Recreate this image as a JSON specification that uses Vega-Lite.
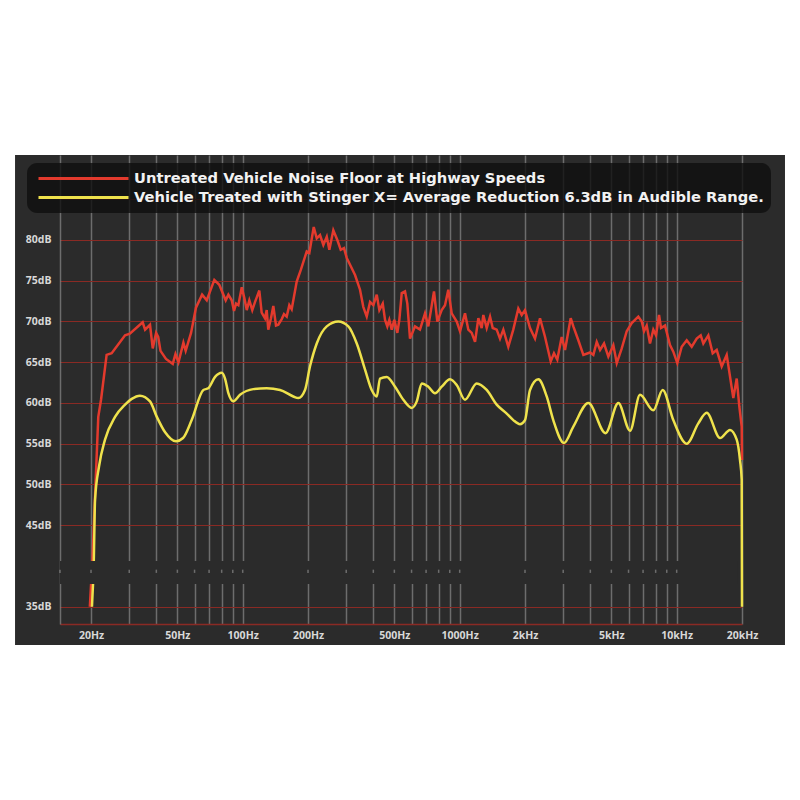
{
"$schema":"https://vega.github.io/schema/vega-lite/v6.json",
"width":682,"height":469,
"autosize":{"type":"none"},
"padding":{"left":60,"top":155,"right":58,"bottom":176},
"background":"#2b2b2b",
"config":{"view":{"stroke":null},"font":"Open Sans",
 "legend":{"fillColor":"rgba(16,16,16,0.82)","cornerRadius":10,"padding":7,"symbolType":"stroke","symbolSize":8100,"symbolStrokeWidth":3,"symbolOffset":3,"labelFont":"DejaVu Sans","labelFontWeight":"bold","labelFontSize":14.7,"labelColor":"#f2f2f2","labelLimit":1000,"labelOffset":4,"rowPadding":2,"clipHeight":17}},
"datasets":{
"untreated":[{"f":19.75,"db":35},{"f":20.3,"db":40.73},{"f":21.6,"db":58.3},{"f":22.24,"db":60.4},{"f":23.6,"db":65.9},{"f":24.9,"db":66.1},{"f":28.7,"db":68.3},{"f":30.2,"db":68.5},{"f":34.6,"db":69.9},{"f":35.5,"db":69.0},{"f":37.4,"db":69.6},{"f":38.5,"db":66.7},{"f":39.9,"db":68.6},{"f":40.8,"db":68.1},{"f":41.8,"db":66.4},{"f":44.3,"db":65.4},{"f":47.6,"db":64.8},{"f":49.0,"db":66.0},{"f":50.6,"db":65.0},{"f":53.3,"db":67.4},{"f":54.6,"db":66.4},{"f":57.8,"db":68.6},{"f":60.9,"db":71.7},{"f":65.0,"db":73.3},{"f":68.3,"db":72.6},{"f":74.0,"db":75.1},{"f":78.0,"db":74.5},{"f":83.5,"db":72.6},{"f":85.9,"db":73.3},{"f":89.0,"db":72.6},{"f":91.2,"db":71.3},{"f":93.2,"db":72.2},{"f":95.5,"db":72.0},{"f":99.0,"db":74.2},{"f":101.7,"db":72.9},{"f":104.4,"db":71.4},{"f":107.3,"db":72.6},{"f":110.7,"db":71.4},{"f":114.0,"db":72.4},{"f":119.3,"db":73.8},{"f":122.3,"db":71.1},{"f":126.7,"db":70.4},{"f":129.0,"db":71.4},{"f":131.2,"db":69.0},{"f":135.0,"db":70.4},{"f":138.4,"db":71.9},{"f":142.4,"db":69.5},{"f":145.9,"db":69.6},{"f":151.3,"db":70.3},{"f":155.0,"db":70.9},{"f":159.5,"db":70.6},{"f":164.0,"db":72.0},{"f":168.2,"db":71.5},{"f":177.4,"db":74.9},{"f":185.1,"db":76.3},{"f":197.3,"db":78.6},{"f":202.8,"db":78.4},{"f":212.5,"db":81.6},{"f":219.4,"db":80.2},{"f":227.2,"db":80.6},{"f":235.3,"db":79.4},{"f":244.0,"db":80.4},{"f":250.8,"db":78.8},{"f":261.6,"db":81.2},{"f":273.0,"db":80.0},{"f":283.0,"db":78.8},{"f":293.0,"db":79.0},{"f":301.6,"db":77.8},{"f":329.4,"db":75.7},{"f":347.3,"db":73.9},{"f":359.6,"db":71.8},{"f":372.9,"db":70.6},{"f":386.3,"db":72.4},{"f":400,"db":72.0},{"f":414.7,"db":73.3},{"f":426.4,"db":71.4},{"f":442,"db":72.2},{"f":452.9,"db":70.2},{"f":464,"db":69.4},{"f":474,"db":70.2},{"f":486.2,"db":69.0},{"f":499.8,"db":70.2},{"f":516,"db":68.6},{"f":527.1,"db":70.2},{"f":540.7,"db":73.5},{"f":559.8,"db":73.7},{"f":573.8,"db":72.2},{"f":590.3,"db":67.9},{"f":622.4,"db":69.4},{"f":656.2,"db":69.0},{"f":692.2,"db":71.0},{"f":716.9,"db":69.4},{"f":761.4,"db":73.7},{"f":788.7,"db":70.0},{"f":826.2,"db":71.4},{"f":855.7,"db":72.0},{"f":886.2,"db":73.9},{"f":918.8,"db":71.0},{"f":969,"db":70.0},{"f":1003.5,"db":68.8},{"f":1058,"db":71.0},{"f":1096,"db":69.0},{"f":1136,"db":68.6},{"f":1177,"db":67.5},{"f":1219,"db":70.4},{"f":1263,"db":69.2},{"f":1285,"db":70.8},{"f":1332,"db":69.2},{"f":1380,"db":70.6},{"f":1420,"db":69.2},{"f":1481,"db":69.0},{"f":1534,"db":67.9},{"f":1589,"db":69.0},{"f":1675,"db":66.9},{"f":1766,"db":69.0},{"f":1863,"db":71.6},{"f":1931,"db":70.8},{"f":2000,"db":71.4},{"f":2109,"db":69.2},{"f":2224,"db":67.9},{"f":2345,"db":70.4},{"f":2474,"db":68.1},{"f":2627,"db":65.1},{"f":2720,"db":66.1},{"f":2817,"db":65.3},{"f":2951,"db":68.1},{"f":3058,"db":66.5},{"f":3248,"db":70.4},{"f":3340,"db":69.4},{"f":3522,"db":67.7},{"f":3714,"db":65.9},{"f":3988,"db":66.2},{"f":4130,"db":65.9},{"f":4282,"db":67.5},{"f":4434,"db":66.5},{"f":4626,"db":67.3},{"f":4842,"db":65.7},{"f":5106,"db":67.1},{"f":5294,"db":64.9},{"f":5582,"db":66.7},{"f":5886,"db":68.8},{"f":6206,"db":69.8},{"f":6656,"db":70.6},{"f":6902,"db":70.0},{"f":7072,"db":68.8},{"f":7276,"db":69.5},{"f":7534,"db":67.3},{"f":7804,"db":69.0},{"f":8032,"db":68.3},{"f":8292,"db":70.8},{"f":8468,"db":69.2},{"f":8836,"db":69.5},{"f":9316,"db":67.1},{"f":9648,"db":66.3},{"f":10066,"db":64.9},{"f":10548,"db":66.9},{"f":11124,"db":67.7},{"f":11730,"db":66.9},{"f":12368,"db":67.9},{"f":12906,"db":68.3},{"f":13268,"db":67.3},{"f":13990,"db":68.3},{"f":14656,"db":66.1},{"f":15292,"db":66.5},{"f":16126,"db":64.5},{"f":17004,"db":65.9},{"f":18240,"db":60.6},{"f":18908,"db":63.0},{"f":19438,"db":59.6},{"f":19936,"db":57.1},{"f":20000,"db":53.0}],
"treated":[{"f":20.2,"db":35},{"f":20.6,"db":40.73},{"f":20.87,"db":48.1},{"f":21.77,"db":52.2},{"f":23.2,"db":55.5},{"f":25.8,"db":58.3},{"f":28.7,"db":59.8},{"f":30.8,"db":60.5},{"f":33.6,"db":60.9},{"f":37.4,"db":60.2},{"f":40.2,"db":58.3},{"f":43.9,"db":56.4},{"f":49.3,"db":55.3},{"f":53.1,"db":55.7},{"f":58.2,"db":57.9},{"f":65.9,"db":61.6},{"f":69.4,"db":61.8},{"f":74.6,"db":63.2},{"f":80.1,"db":63.7},{"f":82.9,"db":63.0},{"f":85.9,"db":61.2},{"f":90.5,"db":60.2},{"f":97.2,"db":61.0},{"f":111.9,"db":61.7},{"f":129,"db":61.8},{"f":148.6,"db":61.6},{"f":171.1,"db":60.8},{"f":180.5,"db":60.6},{"f":193.7,"db":61.6},{"f":204.3,"db":64.5},{"f":219.4,"db":67.3},{"f":244,"db":69.4},{"f":275.8,"db":70.0},{"f":306.8,"db":69.4},{"f":335.5,"db":67.3},{"f":366.3,"db":64.1},{"f":393.1,"db":61.6},{"f":414.7,"db":60.8},{"f":429.4,"db":63.0},{"f":461.1,"db":63.2},{"f":503.6,"db":62.0},{"f":550,"db":60.4},{"f":601.2,"db":59.4},{"f":634,"db":60.2},{"f":668.4,"db":62.4},{"f":716.9,"db":62.0},{"f":769.6,"db":61.2},{"f":826.2,"db":62.0},{"f":902.4,"db":62.9},{"f":969,"db":62.2},{"f":1058,"db":60.4},{"f":1198,"db":62.4},{"f":1332,"db":61.6},{"f":1481,"db":59.8},{"f":1647,"db":58.7},{"f":1766,"db":57.9},{"f":1897,"db":57.4},{"f":2000,"db":57.9},{"f":2109,"db":61.6},{"f":2304,"db":62.9},{"f":2518,"db":60.8},{"f":2700,"db":57.9},{"f":3026,"db":55.1},{"f":3340,"db":57.1},{"f":3916,"db":60.0},{"f":4700,"db":56.3},{"f":5384,"db":60.0},{"f":6096,"db":56.6},{"f":6776,"db":61.0},{"f":7804,"db":59.1},{"f":8622,"db":61.6},{"f":9648,"db":57.9},{"f":11124,"db":55.0},{"f":12578,"db":57.5},{"f":13754,"db":58.8},{"f":15836,"db":55.7},{"f":17610,"db":56.7},{"f":18908,"db":55.5},{"f":19580,"db":53.0},{"f":19936,"db":50.6},{"f":20000,"db":35}],
"gridf":[{"f":14.39},{"f":20},{"f":30},{"f":40},{"f":50},{"f":60},{"f":70},{"f":80},{"f":90},{"f":100},{"f":200},{"f":300},{"f":400},{"f":500},{"f":600},{"f":700},{"f":800},{"f":900},{"f":1000},{"f":2000},{"f":3000},{"f":4000},{"f":5000},{"f":6000},{"f":7000},{"f":8000},{"f":9000},{"f":10000}],
"one":[{}]
},
"layer":[
 {"data":{"name":"untreated"},
  "mark":{"type":"line","strokeWidth":2.5,"interpolate":"linear"},
  "encoding":{
   "x":{"field":"f","type":"quantitative","scale":{"type":"log","domain":[14.39,20000],"nice":false},
     "axis":{"title":null,"values":[20,30,40,50,60,70,80,90,100,200,300,400,500,600,700,800,900,1000,2000,3000,4000,5000,6000,7000,8000,9000,10000,20000],
      "labelExpr":"indexof([20,50,100,200,500,1000],datum.value)>=0 ? datum.value+'Hz' : (indexof([2000,5000,10000,20000],datum.value)>=0 ? (datum.value/1000)+'kHz' : '')",
      "labelOverlap":false,"labelBound":false,"labelFlush":false,"ticks":false,"grid":true,"gridColor":"#b0b0b0","gridOpacity":0.5,"gridWidth":1.5,
      "domain":true,"domainColor":"#8a2a24","domainWidth":1.5,"labelColor":"#d8d8d8","labelFont":"Open Sans","labelFontWeight":"bold","labelFontSize":10.5,"labelPadding":6}},
   "y":{"field":"db","type":"quantitative","scale":{"domain":[32.88,90.43],"nice":false,"zero":false},
     "axis":{"title":null,"values":[35,45,50,55,60,65,70,75,80,85],"labelExpr":"datum.value==85 ? '' : datum.value+'dB'",
      "ticks":false,"grid":true,"gridColor":"#8a2a24","gridWidth":1,"domain":true,"domainColor":"#b0b0b0","domainOpacity":0.5,"domainWidth":1.5,
      "labelColor":"#d8d8d8","labelFont":"Open Sans","labelFontWeight":"bold","labelFontSize":10.5,"labelPadding":9,"labelOverlap":false}},
   "color":{"datum":"untreated","type":"nominal","scale":{"domain":["untreated","treated"],"range":["#e33a2d","#efe24c"]},
     "legend":{"title":null,"orient":"none","legendX":-33,"legendY":8,
      "labelExpr":"datum.value=='untreated' ? 'Untreated Vehicle Noise Floor at Highway Speeds' : 'Vehicle Treated with Stinger X= Average Reduction 6.3dB in Audible Range.'"}}
  }},
 {"data":{"name":"treated"},
  "mark":{"type":"line","strokeWidth":2.5,"interpolate":"monotone"},
  "encoding":{"x":{"field":"f","type":"quantitative"},"y":{"field":"db","type":"quantitative"},"color":{"datum":"treated","type":"nominal"}}},
 {"data":{"name":"one"},"mark":{"type":"rect","color":"#2b2b2b"},
  "encoding":{"x":{"datum":14.39,"type":"quantitative"},"x2":{"datum":19000},"y":{"datum":37.8,"type":"quantitative"},"y2":{"datum":40.6}}},
 {"data":{"name":"gridf"},"mark":{"type":"rule","color":"#b0b0b0","opacity":0.5,"strokeWidth":1.5},
  "encoding":{"x":{"field":"f","type":"quantitative"},"y":{"datum":39.15,"type":"quantitative"},"y2":{"datum":39.55}}},
 {"data":{"name":"one"},"mark":{"type":"rect","color":"white"},
  "encoding":{"x":{"datum":1,"type":"quantitative"},"x2":{"datum":1000000},"y":{"datum":90.43,"type":"quantitative"},"y2":{"datum":130}}},
 {"data":{"name":"one"},"mark":{"type":"rect","color":"white"},
  "encoding":{"x":{"datum":1,"type":"quantitative"},"x2":{"datum":8.93},"y":{"datum":0,"type":"quantitative"},"y2":{"datum":130}}},
 {"data":{"name":"one"},"mark":{"type":"rect","color":"white"},
  "encoding":{"x":{"datum":31560,"type":"quantitative"},"x2":{"datum":1000000},"y":{"datum":0,"type":"quantitative"},"y2":{"datum":130}}},
 {"data":{"name":"one"},"mark":{"type":"rect","color":"white"},
  "encoding":{"x":{"datum":1,"type":"quantitative"},"x2":{"datum":1000000},"y":{"datum":0,"type":"quantitative"},"y2":{"datum":30.3}}}
]
}
